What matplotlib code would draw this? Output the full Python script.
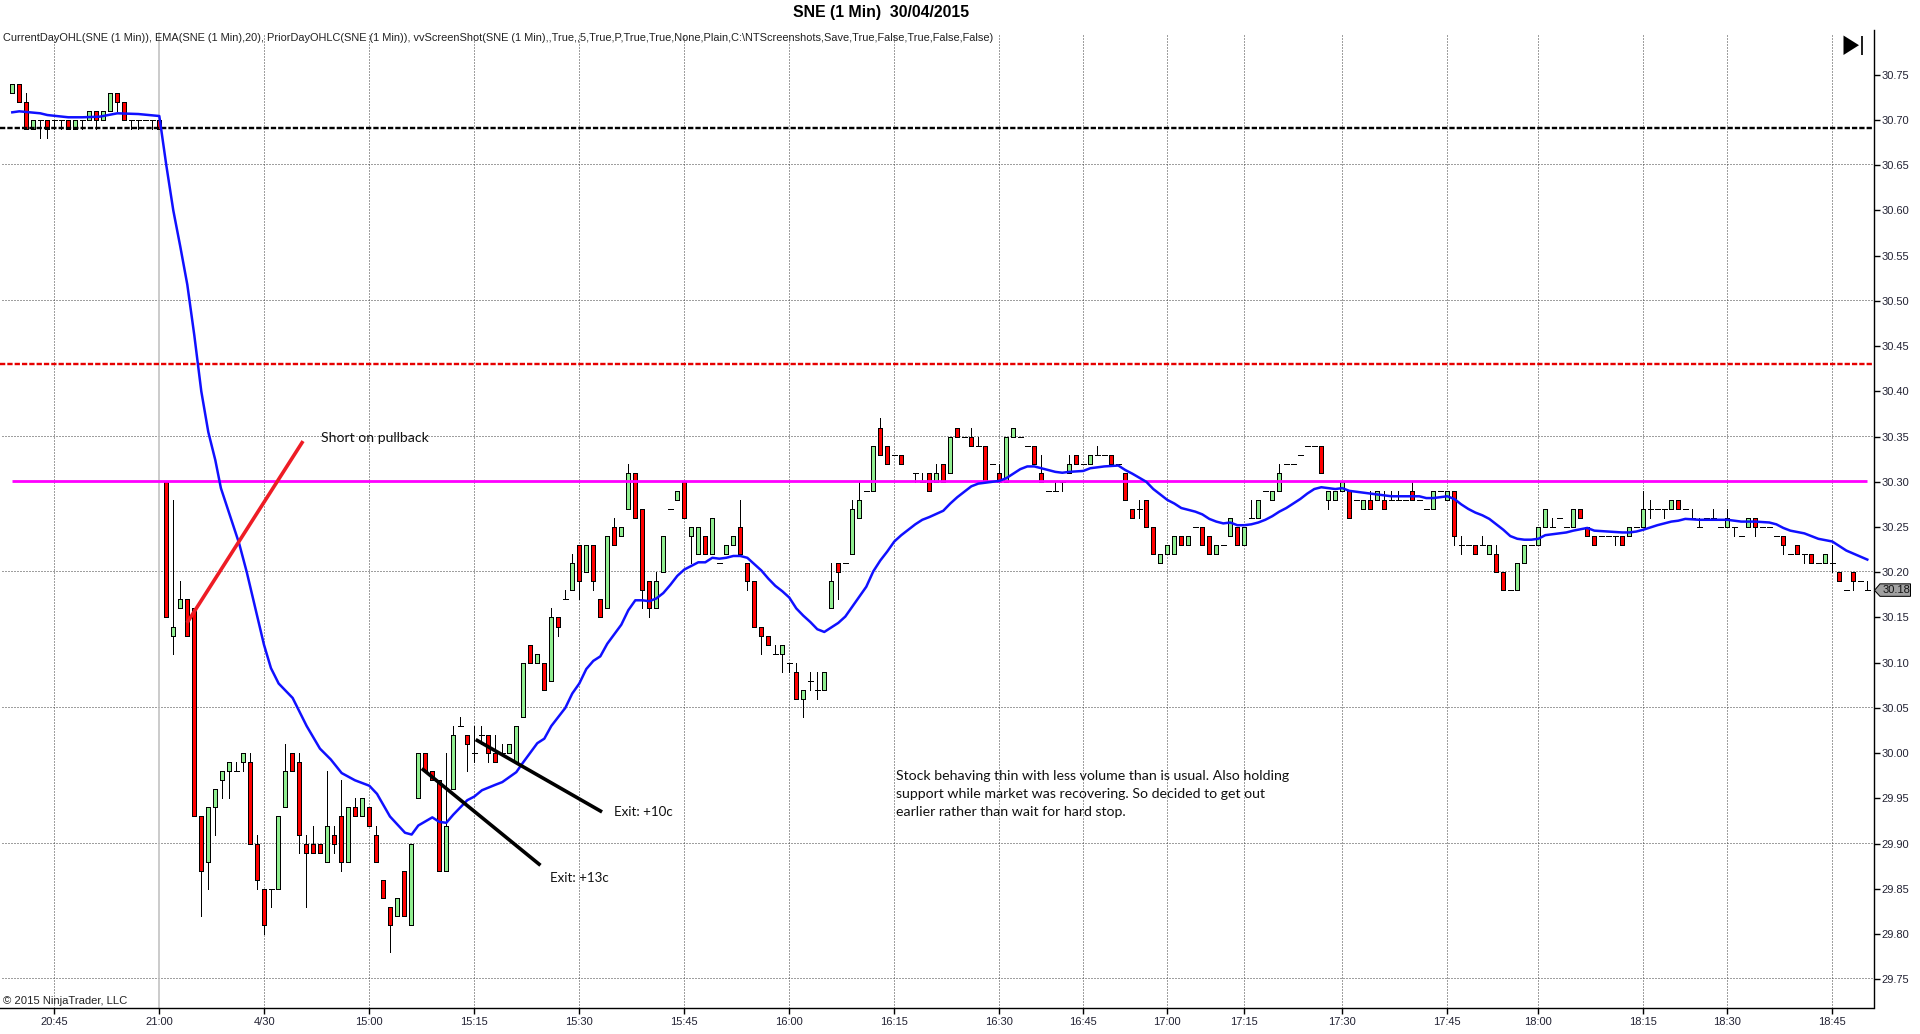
import math
import matplotlib
matplotlib.use("Agg")
import matplotlib.pyplot as plt
from matplotlib.patches import Polygon, Rectangle

nan = math.nan
title = "SNE (1 Min)  30/04/2015"
indicators = ("CurrentDayOHL(SNE (1 Min)), EMA(SNE (1 Min),20), PriorDayOHLC(SNE (1 Min)), "
              "vvScreenShot(SNE (1 Min),,True,,5,True,P,True,True,None,Plain,C:\\NTScreenshots,Save,True,False,True,False,False)")

opens = [
30.73,30.74,30.72,30.69,30.70,30.70,30.70,30.70,30.70,30.69,
30.70,30.70,30.71,30.70,30.71,30.73,30.72,30.70,30.70,30.70,
30.70,30.70,30.30,30.13,30.16,30.17,30.16,29.93,29.88,29.94,
29.97,29.98,29.98,29.99,29.99,29.90,29.85,29.85,29.85,29.94,
30.00,29.99,29.90,29.90,29.90,29.88,29.91,29.93,29.88,29.94,
29.93,29.94,29.91,29.86,29.83,29.82,29.87,29.81,29.95,30.00,
29.98,29.97,29.87,29.96,30.03,30.02,30.00,30.02,30.02,30.00,
30.00,30.00,29.99,30.04,30.12,30.10,30.10,30.08,30.15,30.17,
30.18,30.23,30.20,30.23,30.17,30.16,30.25,30.24,30.27,30.31,
30.27,30.19,30.16,30.20,30.27,30.28,30.30,30.24,30.22,30.24,
30.22,30.21,30.22,30.23,30.25,30.21,30.19,30.14,30.13,30.11,
30.11,30.10,30.09,30.06,30.08,30.07,30.07,30.16,30.21,30.21,
30.22,30.26,30.29,30.29,30.36,30.34,30.33,30.33,nan,30.31,
30.30,30.31,30.30,30.32,30.31,30.36,30.35,30.35,30.34,30.34,
30.32,30.31,30.30,30.35,30.35,30.34,30.34,30.31,30.29,30.29,
30.30,30.31,30.33,30.32,30.32,30.33,30.33,30.33,30.32,30.31,
30.27,30.27,30.28,30.25,30.21,30.22,30.22,30.24,30.23,30.25,
30.25,30.24,30.22,30.23,30.24,30.25,30.23,30.26,30.26,30.29,
30.28,30.29,30.32,30.32,30.33,30.34,30.34,30.34,30.28,30.28,
30.29,30.29,30.28,30.27,30.28,30.28,30.28,30.28,30.28,30.28,
30.29,30.28,30.27,30.27,30.29,30.28,30.29,30.23,30.23,30.23,
30.23,30.22,30.22,30.20,30.18,30.18,30.21,30.23,30.23,30.25,
30.25,30.26,30.25,30.25,30.27,30.25,30.24,30.24,30.24,30.24,
30.24,30.24,30.25,30.25,30.27,30.27,30.27,30.27,30.28,30.27,
30.26,30.25,30.26,30.26,30.25,30.25,30.25,30.24,30.25,30.26,
30.25,30.25,30.24,30.24,30.22,30.23,30.22,30.22,30.21,30.21,
30.21,30.20,30.18,30.20,30.19,30.18]

closes = [
30.74,30.72,30.69,30.70,30.70,30.69,30.70,30.70,30.69,30.70,
30.70,30.71,30.70,30.71,30.73,30.72,30.70,30.70,30.70,30.70,
30.70,30.69,30.15,30.14,30.17,30.13,29.93,29.87,29.94,29.96,
29.98,29.99,29.98,30.00,29.90,29.86,29.81,29.85,29.93,29.98,
29.98,29.91,29.89,29.89,29.89,29.92,29.90,29.88,29.94,29.93,
29.95,29.92,29.88,29.84,29.81,29.84,29.82,29.90,30.00,29.98,
29.97,29.87,29.92,30.02,30.03,30.01,30.00,30.02,30.00,29.99,
30.00,30.01,30.03,30.10,30.10,30.11,30.07,30.15,30.14,30.17,
30.21,30.19,30.23,30.19,30.15,30.24,30.23,30.25,30.31,30.26,
30.18,30.16,30.19,30.24,30.27,30.29,30.26,30.25,30.25,30.22,
30.26,30.21,30.23,30.24,30.22,30.19,30.14,30.13,30.12,30.11,
30.12,30.10,30.06,30.07,30.08,30.07,30.09,30.19,30.20,30.21,
30.27,30.28,30.29,30.34,30.33,30.32,30.33,30.32,nan,30.31,
30.30,30.29,30.31,30.30,30.35,30.35,30.35,30.34,30.34,30.30,
30.32,30.30,30.35,30.36,30.35,30.34,30.32,30.30,30.29,30.29,
30.30,30.32,30.32,30.32,30.33,30.33,30.33,30.32,30.32,30.28,
30.26,30.27,30.25,30.22,30.22,30.23,30.24,30.23,30.24,30.25,
30.23,30.22,30.23,30.23,30.26,30.23,30.25,30.26,30.28,30.29,
30.29,30.31,30.32,30.32,30.33,30.34,30.34,30.31,30.29,30.29,
30.30,30.26,30.28,30.28,30.27,30.29,30.27,30.28,30.28,30.28,
30.28,30.28,30.27,30.29,30.29,30.29,30.24,30.23,30.23,30.22,
30.23,30.23,30.20,30.18,30.18,30.21,30.23,30.23,30.25,30.27,
30.25,30.26,30.25,30.27,30.26,30.24,30.23,30.24,30.24,30.24,
30.23,30.25,30.25,30.27,30.27,30.27,30.27,30.28,30.27,30.27,
30.26,30.25,30.26,30.26,30.25,30.26,30.25,30.24,30.26,30.25,
30.25,30.25,30.24,30.23,30.22,30.22,30.22,30.21,30.21,30.22,
30.21,30.19,30.18,30.19,30.19,30.18]

high_wicks = {2:30.73,23:30.28,24:30.19,32:29.99,34:30.00,35:29.91,39:30.01,41:30.00,42:29.91,43:29.92,
 45:29.98,46:29.92,47:29.97,49:29.95,52:29.92,62:30.00,63:30.03,64:30.04,66:30.03,67:30.03,69:30.02,70:30.01,
 77:30.16,79:30.18,80:30.22,86:30.26,88:30.32,92:30.20,104:30.28,109:30.12,112:30.10,114:30.09,115:30.09,
 117:30.21,120:30.28,121:30.30,124:30.37,130:30.31,132:30.32,137:30.36,138:30.35,141:30.32,147:30.33,149:30.30,
 151:30.33,155:30.34,161:30.28,177:30.28,181:30.32,194:30.29,196:30.29,197:30.29,198:30.29,200:30.30,207:30.24,
 210:30.24,212:30.23,220:30.26,233:30.29,234:30.28,240:30.27,241:30.26,243:30.27,245:30.27,260:30.23,265:30.19}
low_wicks = {4:30.68,5:30.68,6:30.69,7:30.69,10:30.69,12:30.69,15:30.71,17:30.69,18:30.69,20:30.69,23:30.11,
 27:29.82,28:29.85,29:29.91,30:29.95,31:29.95,33:29.98,35:29.85,36:29.80,37:29.83,41:29.89,42:29.83,46:29.89,
 47:29.87,54:29.78,65:29.98,66:29.99,67:30.01,68:29.99,78:30.13,81:30.17,83:30.18,90:30.16,91:30.15,97:30.21,
 105:30.18,107:30.11,110:30.09,111:30.09,113:30.04,114:30.07,115:30.06,118:30.17,129:30.30,150:30.29,161:30.26,
 188:30.27,206:30.23,207:30.22,229:30.23,234:30.26,236:30.26,246:30.24,249:30.24,253:30.22,256:30.21,260:30.20,263:30.18}

ema_index = [0,1,4,5,8,10,12.5,15,18,21,22,23,24,25,26,27,28,29,29.8,32.4,33.5,35.95,36.95,38.05,40.05,42.05,43.95,45.5,
 47.05,48.95,51,52.1,53.95,56.1,57.05,58,60,61,62,63,65,66,67.1,69,70,72,73,75,76,77,79,80,81,82,83,84,85,87,88,89,90,91,92,93,94,95,96,97,98,99,100,
 101,102,103,104,105,106,107,108,109,110,111,112,113,114,115,116,117,118,119,120,121,122,123,124,125,126,127,129,130,131,133,134,135,137,138,139,
 141,142,143,144,145,146,147,148,149,150,151,153,154,155,156,158,159,160,162,163,164,165,166,167,169,170,171,172,173,174,175,176,177,178,179,180,181,
 182,183,184,185,186,187,188,189,190,191,193,195,197,199,201,202,203,204,205,206,207,208,209,210,211,212,213,214,215,216,217,218,219,220,222,223,225,
 226,228,230,231,232,233,235,237,238,239,241,245,247,249,251,252,253,254,256,258,260,262,265]
ema_values = [30.7085,30.7096,30.7074,30.7055,30.703,30.703,30.7037,30.7074,30.7066,30.7044,30.65,30.60,30.56,30.518,30.462,30.40,30.355,30.324,30.293,30.232,30.20,30.12,30.094,30.077,30.061,30.03,30.005,29.993,
 29.978,29.970,29.964,29.955,29.930,29.912,29.910,29.92,29.929,29.924,29.923,29.932,29.948,29.952,29.959,29.965,29.968,29.979,29.99,30.011,30.016,30.03,30.05,30.066,30.077,30.093,30.102,30.107,30.121,30.142,30.158,30.169,30.169,30.168,30.171,30.177,30.186,30.196,30.203,30.207,30.211,30.211,30.216,
 30.215,30.216,30.218,30.218,30.216,30.209,30.202,30.193,30.185,30.179,30.172,30.160,30.152,30.145,30.137,30.134,30.139,30.144,30.151,30.162,30.173,30.184,30.201,30.213,30.223,30.234,30.241,30.253,30.258,30.261,30.268,30.276,30.283,30.295,30.298,30.299,
 30.301,30.304,30.309,30.314,30.317,30.317,30.315,30.313,30.311,30.310,30.311,30.312,30.315,30.316,30.317,30.318,30.313,30.309,30.300,30.292,30.286,30.28,30.276,30.271,30.267,30.264,30.259,30.256,30.254,30.255,30.252,30.252,30.253,30.255,30.258,30.262,30.267,
 30.271,30.276,30.281,30.287,30.292,30.294,30.293,30.292,30.293,30.29,30.288,30.286,30.284,30.284,30.284,30.282,30.282,30.283,30.284,30.281,30.275,30.27,30.266,30.263,30.259,30.253,30.247,30.24,30.237,30.236,30.236,30.237,30.241,30.242,30.244,30.246,30.249,
 30.246,30.245,30.244,30.244,30.245,30.247,30.252,30.256,30.257,30.259,30.258,30.258,30.256,30.256,30.255,30.253,30.249,30.246,30.243,30.237,30.234,30.224,30.214]

price_ticks = [30.75,30.70,30.65,30.60,30.55,30.50,30.45,30.40,30.35,30.30,30.25,30.20,30.15,30.10,30.05,30.00,29.95,29.90,29.85,29.80,29.75]
price_grid = [30.65,30.50,30.35,30.20,30.05,29.90,29.75]
time_index = [6,21,36,51,66,81,96,111,126,141,153,165,176,190,205,218,233,245,260]
time_labels = ["20:45","21:00","4/30","15:00","15:15","15:30","15:45","16:00","16:15","16:30","16:45","17:00","17:15","17:30","17:45","18:00","18:15","18:30","18:45"]
session_break = 21

prior_close = 30.69
prior_low = 30.43
current_open = 30.30
last_price = 30.18

short_line = ([24.96,41.53],[30.144,30.345])
exit13_line = ([58.5,75.45],[29.983,29.876])
exit10_line = ([66.2,84.25],[30.015,29.935])
note_lines = ["Stock behaving thin with less volume than is usual. Also holding",
              "support while market was recovering. So decided to get out",
              "earlier rather than wait for hard stop."]

W, H, DPI = 1920, 1034, 100
PX = 72.0 / DPI
fig = plt.figure(figsize=(W/DPI, H/DPI), dpi=DPI, facecolor="white")
L, R, T, B = 0.0, 1873.5, 30.0, 1007.5
ax = fig.add_axes([L/W, 1-B/H, (R-L)/W, (B-T)/H])
BAR = 7.0
X0 = 12.3
PPU = 904.5
Y70 = 120.0
LINE_NUDGE = 1.0 / PPU
ax.set_xlim((L-X0)/BAR, (R-X0)/BAR)
ax.set_ylim(30.70-(B-Y70)/PPU, 30.70-(T-Y70)/PPU)
ax.set_facecolor("white")

for s in ("left", "top"):
    ax.spines[s].set_visible(False)
for s in ("right", "bottom"):
    ax.spines[s].set_linewidth(1.4*PX)
    ax.spines[s].set_color("black")

ax.yaxis.tick_right()
ax.set_yticks(price_ticks)
ax.set_yticklabels([f"{p:.2f}" for p in price_ticks], fontname="Liberation Sans", fontsize=8, color="#222233")
ax.set_xticks(time_index)
ax.set_xticklabels(time_labels, fontname="Liberation Sans", fontsize=8, color="#222233")
ax.tick_params(axis="y", length=6*PX, width=1.4*PX, pad=1.5, color="black")
ax.tick_params(axis="x", length=6*PX, width=1.4*PX, pad=2.5, color="black")

dot = (0, (1, 2))
grid_col = "#404040"
for p in price_grid:
    ax.axhline(p+LINE_NUDGE, xmin=2/R, color=grid_col, lw=1.0*PX, ls=dot, zorder=1)
for i in time_index:
    if i == session_break:
        ax.axvline(i, color="#c0c0c0", lw=1.6*PX, zorder=1, ymax=(B-33)/(B-T))
    else:
        ax.axvline(i, color=grid_col, lw=1.0*PX, ls=dot, zorder=1, ymax=(B-33)/(B-T))

dash_half = 2.6 / BAR
body_w = 3.8 / BAR
for i, (o, c) in enumerate(zip(opens, closes)):
    if math.isnan(o):
        continue
    hi = high_wicks.get(i, max(o, c))
    lo = low_wicks.get(i, min(o, c))
    ax.plot([i, i], [lo, hi], color="black", lw=1.0*PX, zorder=3, solid_capstyle="butt", antialiased=False)
    if o == c:
        ax.plot([i-dash_half, i+dash_half], [o, o], color="black", lw=1.0*PX, zorder=3, solid_capstyle="butt", antialiased=False)
    else:
        col = "#90EE90" if c > o else "#FF0000"
        ax.add_patch(Rectangle((i-body_w/2, min(o, c)), body_w, abs(c-o), facecolor=col,
                               edgecolor="black", lw=1.0*PX, zorder=4, antialiased=False))

ax.plot([-1.75, (1872-X0)/BAR], [prior_close+LINE_NUDGE]*2, color="black", lw=2.4*PX, ls=(0, (2.2, 0.85)), zorder=5)
ax.plot([-1.75, (1872-X0)/BAR], [prior_low]*2, color="#E60000", lw=2.4*PX, ls=(0, (2.2, 0.85)), zorder=5)
ax.plot([0, 265], [current_open+LINE_NUDGE]*2, color="#FF00FF", lw=2.8*PX, zorder=5, solid_capstyle="butt")
ax.plot(ema_index, ema_values, color="#1010FF", lw=2.5*PX, zorder=6)

ax.plot(*short_line, color="#EE1C25", lw=3.6*PX, zorder=7, solid_capstyle="butt")
ax.plot(*exit13_line, color="black", lw=3.6*PX, zorder=7, solid_capstyle="butt")
ax.plot(*exit10_line, color="black", lw=3.6*PX, zorder=7, solid_capstyle="butt")

def fx(x): return x/W
def fy(y): return 1-y/H

fig.text(fx(881), fy(12), title, ha="center", va="center", fontname="Liberation Sans", fontweight="bold", fontsize=11.4, color="black")
fig.text(fx(3), fy(38), indicators, ha="left", va="center", fontname="Liberation Sans", fontsize=7.95, color="#222222")
fig.text(fx(3), fy(1004), "\u00a9 2015 NinjaTrader, LLC", ha="left", va="baseline", fontname="Liberation Sans", fontsize=8.1, color="#222222")

fig.text(fx(321), fy(438.5), "Short on pullback", ha="left", va="center", fontname="Lato", fontsize=10.1, color="#111111")
fig.text(fx(613.5), fy(812.5), "Exit: +10c", ha="left", va="center", fontname="Lato", fontsize=9.6, color="#111111")
fig.text(fx(550.5), fy(878.5), "Exit: +13c", ha="left", va="center", fontname="Lato", fontsize=9.6, color="#111111")
for y, line in zip([776, 794, 812], note_lines):
    fig.text(fx(896), fy(y), line, ha="left", va="center", fontname="Lato", fontsize=10.15, color="#111111")

def px_pts(points):
    return [(fx(x), fy(y)) for x, y in points]

fig.add_artist(Polygon(px_pts([(1843.5, 35.5), (1843.5, 55), (1859, 45.2)]), closed=True, facecolor="black", edgecolor="none", transform=fig.transFigure))
fig.add_artist(Rectangle((fx(1861), fy(55)), 2.4/W, 19.5/H, facecolor="#222222", edgecolor="none", transform=fig.transFigure))

ly = Y70 + (30.70-last_price)*PPU
fig.add_artist(Polygon(px_pts([(1874.5, ly), (1880, ly-6.5), (1910.5, ly-6.5), (1910.5, ly+6), (1880, ly+6)]),
                       closed=True, facecolor="#A0A0A0", edgecolor="black", lw=1.0*PX, transform=fig.transFigure))
fig.text(fx(1882.5), fy(ly), f"{last_price:.2f}", ha="left", va="center", fontname="Liberation Sans", fontsize=8, color="#111111")

fig.savefig("out.png", dpi=DPI)
